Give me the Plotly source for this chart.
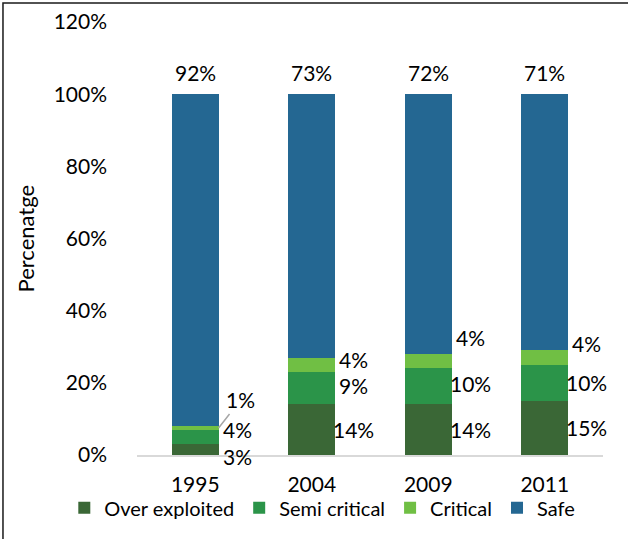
import plotly.graph_objects as go

# ---------------------------------------------------------
# DATA
# ---------------------------------------------------------
years = ["1995", "2004", "2009", "2011"]
over_exploited = [3, 14, 14, 15]
semi_critical = [4, 9, 10, 10]
critical = [1, 4, 4, 4]
safe = [92, 73, 72, 71]
y_ticks = [0, 20, 40, 60, 80, 100, 120]

series_names = ["Over exploited", "Semi critical", "Critical", "Safe"]
series_values = [over_exploited, semi_critical, critical, safe]
colores = ["#3a6736", "#2b9449", "#70bf44", "#246792"]

FONT = "Lato"
FS = 21
pos = list(range(len(years)))

fig = go.Figure()

for name, vals, col in zip(series_names, series_values, colores):
    fig.add_trace(go.Bar(
        x=pos, y=vals, name=name, width=0.4,
        marker=dict(color=col, line=dict(width=0)),
    ))

# etiquetas de los segmentos (a la derecha de la barra)
# desplazamientos en px para separar etiquetas como en el original
nudge = {
    "Over exploited": [-7, 0, 0, 0],
    "Semi critical": [7, 3, 3, 0],
    "Critical": [None, 5, 24, 14],
}
base = [0] * len(years)
for name, vals in zip(series_names[:3], series_values[:3]):
    for i, v in enumerate(vals):
        mid = base[i] + v / 2
        if name == "Critical" and i == 0:
            # etiqueta con línea guía para 1995
            fig.add_annotation(
                x=i + 0.2, y=mid, text=f"{v}%", showarrow=True,
                arrowhead=0, arrowwidth=1.5, arrowcolor="#a6a6a6",
                ax=22, ay=-28, font=dict(family=FONT, size=FS, color="black"),
            )
        else:
            fig.add_annotation(
                x=i + 0.36, y=mid, text=f"{v}%", showarrow=False,
                xanchor="center", yshift=nudge[name][i],
                font=dict(family=FONT, size=FS, color="black"),
            )
        base[i] += v

# etiquetas de Safe encima de la barra
for i, v in enumerate(safe):
    fig.add_annotation(
        x=i, y=base[i] + v, text=f"{v}%", showarrow=False,
        yanchor="bottom", yshift=7,
        font=dict(family=FONT, size=FS, color="black"),
    )

# título del eje Y
fig.add_annotation(
    xref="paper", yref="paper", x=-0.234, y=0.5, xshift=-2, text="Percenatge",
    textangle=-90, showarrow=False, xanchor="center", yanchor="middle",
    font=dict(family=FONT, size=22, color="black"),
)

# borde del gráfico (solo izquierda y arriba visibles)
fig.add_shape(type="rect", xref="paper", yref="paper",
              x0=-0.2876, x1=1.3, y0=-0.4, y1=1.044,
              line=dict(color="#1a1a1a", width=1.5), layer="below")

fig.update_layout(
    barmode="stack",
    width=628, height=539,
    margin=dict(l=137, r=25, t=22, b=84, autoexpand=False),
    plot_bgcolor="white", paper_bgcolor="white",
    font=dict(family=FONT, size=FS, color="black"),
    showlegend=True,
    legend=dict(orientation="h", xanchor="left", x=-0.156,
                yanchor="middle", y=-0.122, itemwidth=30,
                bgcolor="rgba(0,0,0,0)",
                font=dict(family=FONT, size=20, color="black"),
                traceorder="normal"),
    xaxis=dict(range=[-0.5, 3.5], tickvals=pos, ticktext=years,
               showgrid=False, zeroline=False, showline=True,
               linecolor="#d9d9d9", linewidth=2, ticks="",
               ticklabelstandoff=10, automargin=False),
    yaxis=dict(range=[0, 120], tickvals=y_ticks,
               ticktext=[f"{t}%" for t in y_ticks], showgrid=False,
               zeroline=False, showline=False, ticks="",
               ticklabelstandoff=29, automargin=False),
)

# quitar el margen por defecto del <body> para que el gráfico quede en (0,0)
fig.write_html("out.html", config={"displayModeBar": False},
               post_script="document.body.style.margin='0';")
